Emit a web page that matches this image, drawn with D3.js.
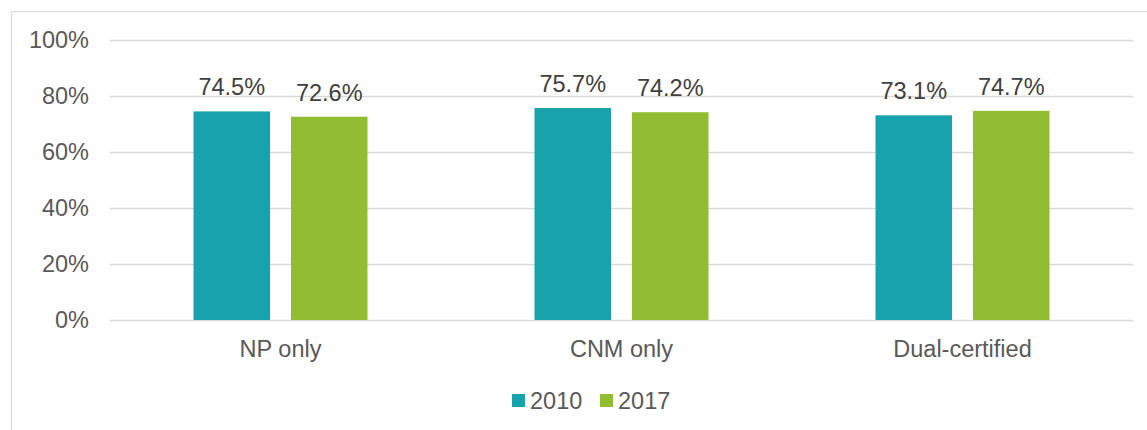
<!DOCTYPE html>
<html>
<head>
<meta charset="utf-8">
<script src="https://cdn.jsdelivr.net/npm/d3@7"></script>
<style>
  body { margin: 0; background: #fff; }
  svg { display: block; font-family: "Liberation Sans", Arial, sans-serif; }
</style>
</head>
<body>
<svg id="chart" width="1147" height="430"></svg>
<script>
// chart data
var categories = ["NP only", "CNM only", "Dual-certified"];
var seriesNames = ["2010", "2017"];
var values2010 = [74.5, 75.7, 73.1];
var values2017 = [72.6, 74.2, 74.7];
var yTicks = [0, 20, 40, 60, 80, 100];

var colors = { "2010": "#17a2ac", "2017": "#92bd33" };

var svg = d3.select("#chart");
var width = 1147;
var height = 430;
var margin = { top: 40, right: 14, bottom: 110, left: 110 };
var innerW = width - margin.left - margin.right;
var innerH = height - margin.top - margin.bottom;

// outer frame (right / bottom edges fall outside the picture)
svg
  .append("rect")
  .attr("x", 11.5)
  .attr("y", 11.5)
  .attr("width", width + 10)
  .attr("height", height + 10)
  .attr("fill", "none")
  .attr("stroke", "#d9d9d9")
  .attr("stroke-width", 1);

var g = svg.append("g").attr("transform", `translate(${margin.left},${margin.top})`);

var x0 = d3.scaleBand().domain(categories).range([0, innerW]);
var x1 = d3.scaleBand().domain(seriesNames).range([87, 87 + 174]).paddingInner(0.215);
var y = d3.scaleLinear().domain([0, 100]).range([innerH, 0]);

// gridlines + y labels
var yAxis = d3
  .axisLeft(y)
  .tickValues(yTicks)
  .tickSize(-innerW)
  .tickPadding(21)
  .tickFormat((d) => d + "%");

var ya = g.append("g").call(yAxis);
ya.select(".domain").remove();
ya.selectAll(".tick line").attr("stroke", "#d9d9d9").attr("stroke-width", 1.3);
ya.selectAll(".tick text")
  .attr("fill", "#595959")
  .style("font-size", "23.5px")
  .style("font-family", "Liberation Sans, Arial, sans-serif");

var rows = categories.map((c, i) => ({
  cat: c,
  vals: [
    { key: "2010", v: values2010[i] },
    { key: "2017", v: values2017[i] },
  ],
}));

var groups = g
  .selectAll(".grp")
  .data(rows)
  .join("g")
  .attr("class", "grp")
  .attr("transform", (d) => `translate(${x0(d.cat) + (x0.bandwidth() - 348) / 2 + 87},0)`);

groups
  .selectAll("rect")
  .data((d) => d.vals)
  .join("rect")
  .attr("x", (d) => x1(d.key) - 87)
  .attr("y", (d) => y(d.v))
  .attr("width", x1.bandwidth())
  .attr("height", (d) => innerH - y(d.v))
  .attr("fill", (d) => colors[d.key]);

groups
  .selectAll("text.val")
  .data((d) => d.vals)
  .join("text")
  .attr("class", "val")
  .attr("x", (d) => x1(d.key) - 87 + x1.bandwidth() / 2)
  .attr("y", (d) => y(d.v) - 16)
  .attr("text-anchor", "middle")
  .attr("fill", "#404040")
  .style("font-size", "23.5px")
  .text((d) => d.v.toFixed(1) + "%");

// category labels
g.selectAll(".cat")
  .data(categories)
  .join("text")
  .attr("class", "cat")
  .attr("x", (d) => x0(d) + x0.bandwidth() / 2)
  .attr("y", innerH + 37)
  .attr("text-anchor", "middle")
  .attr("fill", "#595959")
  .style("font-size", "23.5px")
  .text((d) => d);

// legend
var legend = svg.append("g").attr("transform", "translate(512,394)");
var lg = legend
  .selectAll("g")
  .data(seriesNames)
  .join("g")
  .attr("transform", (d, i) => `translate(${i * 88},0)`);
lg.append("rect")
  .attr("width", 13)
  .attr("height", 13)
  .attr("fill", (d) => colors[d]);
lg.append("text")
  .attr("x", 18)
  .attr("y", 15)
  .attr("fill", "#595959")
  .style("font-size", "23.5px")
  .text((d) => d);
</script>
</body>
</html>
